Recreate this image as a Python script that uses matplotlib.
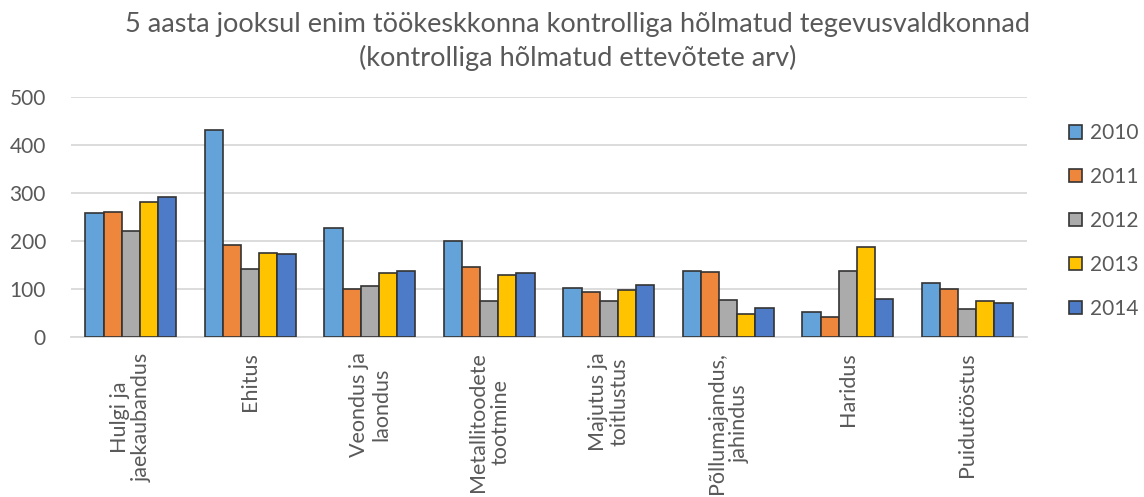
import matplotlib.pyplot as plt
import numpy as np

categories = ['Hulgi ja\njaekaubandus', 'Ehitus', 'Veondus ja\nlaondus',
              'Metallitoodete\ntootmine', 'Majutus ja\ntoitlustus',
              'Põllumajandus,\njahindus', 'Haridus', 'Puidutööstus']
years = ['2010', '2011', '2012', '2013', '2014']
v2010 = [258, 432, 227, 200, 103, 138, 53, 112]
v2011 = [261, 192, 100, 146, 93, 135, 42, 100]
v2012 = [221, 141, 106, 75, 75, 77, 138, 58]
v2013 = [282, 176, 133, 130, 98, 47, 187, 74]
v2014 = [291, 173, 138, 133, 109, 60, 80, 71]
series = [v2010, v2011, v2012, v2013, v2014]
colors = ['#64A3D9', '#EE863B', '#ABABAB', '#FFC300', '#4D7BC8']

plt.rcParams['font.family'] = ['Lato', 'DejaVu Sans']
grey = '#595959'

fig = plt.figure(figsize=(11.44, 4.97), dpi=100)
ax = fig.add_axes([71 / 1144, 1 - 337 / 497, (1027 - 71) / 1144, 240 / 497])

x = np.arange(len(categories))
w = 0.152
for i, (vals, col) in enumerate(zip(series, colors)):
    ax.bar(x + (i - 2) * w, vals, width=w, color=col, edgecolor='#333333',
           linewidth=1.2, label=years[i], zorder=3)

ax.set_xlim(-0.5, len(categories) - 0.5)
ax.set_ylim(0, 500)
ax.set_yticks(range(0, 501, 100))
ax.yaxis.grid(True, color='#D9D9D9', linewidth=1.3, zorder=0)
for s in ['top', 'right', 'left']:
    ax.spines[s].set_visible(False)
ax.spines['bottom'].set_color('#D9D9D9')
ax.spines['bottom'].set_linewidth(1.3)
ax.tick_params(axis='y', length=0, pad=18, labelsize=15, labelcolor=grey)
ax.tick_params(axis='x', length=0, pad=11)
ax.set_xticks(x)
ax.set_xticklabels(categories, rotation=90, fontsize=15.5, color=grey,
                   va='top', ha='center', multialignment='center',
                   linespacing=1.15)

fig.text(0.505, 0.975, '5 aasta jooksul enim töökeskkonna kontrolliga hõlmatud tegevusvaldkonnad\n(kontrolliga hõlmatud ettevõtete arv)',
         ha='center', va='top', fontsize=19.5, color=grey, linespacing=1.35)

fig.legend(loc='center left', bbox_to_anchor=(1069 / 1144, 1 - 221 / 497),
           frameon=False, fontsize=15, labelcolor=grey, handlelength=0.62,
           handleheight=0.62, handletextpad=0.4, labelspacing=1.15,
           borderpad=0, borderaxespad=0)

fig.savefig('out.png', dpi=100)
